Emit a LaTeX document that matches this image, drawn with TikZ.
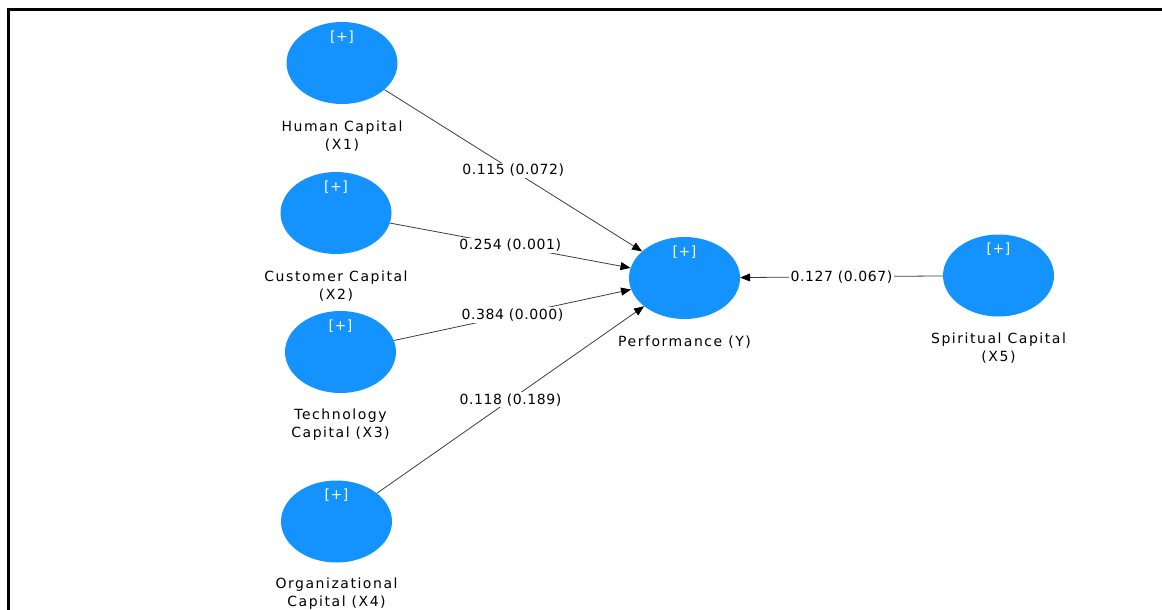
\documentclass[tikz,border=0pt]{standalone}
\usepackage{fontspec}
\setmainfont{DejaVu Sans}[LetterSpace=4]
\newfontfamily\lvfont{DejaVu Sans}[LetterSpace=11]
\usetikzlibrary{shapes.geometric,positioning,arrows.meta}
\definecolor{lvblue}{RGB}{20,147,255}
\definecolor{pathgray}{RGB}{60,60,60}
\tikzset{
  latent/.style={ellipse,fill=lvblue,draw=none,minimum width=111pt,minimum height=82pt,inner sep=0pt},
  plus/.style={text=white,inner sep=0pt},
  lvname/.style={align=center,inner sep=0pt,font=\lvfont\fontsize{14}{18}\selectfont},
  coef/.style={draw=pathgray,line width=0.8pt,-{Triangle[length=10pt,width=8pt,color=black]}},
  coeflbl/.style={fill=white,inner sep=1.5pt,text=black},
}

\begin{document}
\begin{tikzpicture}[x=1pt,y=-1pt,font=\fontsize{14}{18}\selectfont]
  \useasboundingbox (0,0) rectangle (1162,610);
  \draw[line width=3pt] (8,610) -- (8,10) -- (1162,10);

  \node[latent] (hc) at (342,63) {};
  \node[latent] (cc) at (336,213) {};
  \node[latent] (tc) at (340.5,352) {};
  \node[latent] (oc) at (336.5,521.5) {};
  \node[latent] (perf) at (684.5,278) {};
  \node[latent] (sc) at (998.5,275.5) {};

  \foreach \lv in {hc,cc,tc,oc,perf,sc}
    \node[plus] (\lv plus) at ([yshift=-15pt]\lv.north) {[+]};

  \node[lvname,below=16pt of hc] (hclbl) {Human Capital\\(X1)};
  \node[lvname,below=16pt of cc] (cclbl) {Customer Capital\\(X2)};
  \node[lvname,below=15pt of tc] (tclbl) {Technology\\Capital (X3)};
  \node[lvname,below=15pt of oc] (oclbl) {Organizational\\Capital (X4)};
  \node[lvname,below=16pt of perf] (perflbl) {Performance (Y)};
  \node[lvname,below=16pt of sc] (sclbl) {Spiritual Capital\\(X5)};

  \draw[coef] (hc) -- node[coeflbl] {0.115 (0.072)} (perf);
  \draw[coef] (cc) -- node[coeflbl] {0.254 (0.001)} (perf);
  \draw[coef] (tc) -- node[coeflbl] {0.384 (0.000)} (perf);
  \draw[coef] (oc) -- node[coeflbl] {0.118 (0.189)} (perf);
  \draw[coef] (sc) -- node[coeflbl] {0.127 (0.067)} (perf);
\end{tikzpicture}
\end{document}
